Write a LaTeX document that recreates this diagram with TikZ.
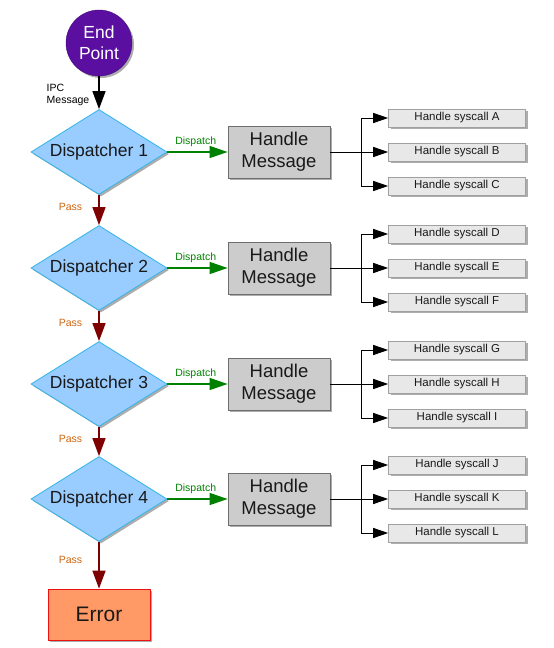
\documentclass[tikz,border=0pt]{standalone}
\usepackage{fontspec}
\setmainfont{Liberation Sans}
\usetikzlibrary{shapes.geometric,arrows.meta,shadows}
\definecolor{endpurple}{HTML}{5A0FA0}
\definecolor{dispfill}{HTML}{99CCFF}
\definecolor{dispedge}{HTML}{33B5E5}
\definecolor{hmfill}{HTML}{CCCCCC}
\definecolor{hmedge}{HTML}{6E6E6E}
\definecolor{scfill}{HTML}{E8E8E8}
\definecolor{scedge}{HTML}{A0A0A0}
\definecolor{errfill}{HTML}{FF9966}
\definecolor{erredge}{HTML}{EE1111}
\definecolor{dispgreen}{HTML}{008000}
\definecolor{passorange}{HTML}{CC6611}
\definecolor{passred}{HTML}{7F0000}
\tikzset{
  shd/.style={drop shadow={shadow xshift=2pt,shadow yshift=-2pt,fill=black!40,opacity=0.8}},
  endnode/.style={circle,fill=endpurple,draw=endpurple!80!black,minimum size=66pt,inner sep=0pt,
    text=white,font=\fontsize{17.5}{21}\selectfont,align=center,shd},
  dispnode/.style={diamond,aspect=1.6,fill=dispfill,draw=dispedge,line width=0.8pt,minimum width=136pt,minimum height=85pt,
    inner sep=0pt,font=\fontsize{17.5}{20}\selectfont,text=black!90,shd},
  hmnode/.style={rectangle,fill=hmfill,draw=hmedge,line width=0.8pt,minimum width=102pt,minimum height=52pt,
    inner sep=0pt,align=center,font=\fontsize{18.5}{22}\selectfont,text=black!90,shd},
  scnode/.style={rectangle,fill=scfill,draw=scedge,line width=0.6pt,minimum width=137pt,minimum height=18pt,
    inner sep=0pt,font=\fontsize{11.5}{13}\selectfont,text=black!90,shd},
  errnode/.style={rectangle,fill=errfill,draw=erredge,line width=0.8pt,minimum width=102pt,minimum height=51pt,
    inner sep=0pt,font=\fontsize{21}{24}\selectfont,text=black!90,shd},
  smalllbl/.style={font=\fontsize{10.5}{11.5}\selectfont,inner sep=0pt,align=left},
  blkarrow/.style={line width=1.5pt,black,-{Triangle[length=18pt,width=13pt]}},
  grnarrow/.style={line width=1.5pt,dispgreen,-{Triangle[length=18pt,width=12pt]}},
  redarrow/.style={line width=1.5pt,passred,-{Triangle[length=18pt,width=13pt]}},
  scarrow/.style={line width=1pt,black,-{Triangle[length=15pt,width=10pt]}},
}
\begin{document}
\begin{tikzpicture}[x=1pt,y=-1pt]
\useasboundingbox (0,0) rectangle (554,648);
\node[endnode] (ep) at (99,43) {End\\Point};
\node[smalllbl] (ipc) at (68,95) {IPC\\Message};
\node[errnode] (err) at (99,614.5) {Error};
\foreach \i/\y/\a/\b/\c in {1/152/A/B/C,2/268/D/E/F,3/384/G/H/I,4/499/J/K/L}{
  \node[dispnode] (d\i) at (99,\y) {Dispatcher \i};
  \node[hmnode] (h\i) at (279,\y) {Handle\\Message};
  \node[scnode] (s\i a) at (457,\y-34) {Handle syscall \a};
  \node[scnode] (s\i b) at (457,\y) {Handle syscall \b};
  \node[scnode] (s\i c) at (457,\y+34) {Handle syscall \c};
  \coordinate (j\i) at (361,\y);
  \draw[grnarrow] (d\i.east) -- (h\i.west)
    node[pos=0.47,above=5pt,smalllbl,text=dispgreen]{Dispatch};
  \draw[scarrow] (h\i.east) -- (s\i b.west);
  \draw[scarrow] (j\i) |- (s\i a.west);
  \draw[scarrow] (j\i) |- (s\i c.west);
}
\draw[blkarrow] (ep.south) -- (d1.north);
\foreach \i/\j in {1/2,2/3,3/4}{
  \draw[redarrow] (d\i.south) -- (d\j.north)
    node[pos=0.4,left=16pt,smalllbl,text=passorange]{Pass};
}
\draw[redarrow] (d4.south) -- (err.north)
  node[pos=0.38,left=16pt,smalllbl,text=passorange]{Pass};
\end{tikzpicture}
\end{document}
